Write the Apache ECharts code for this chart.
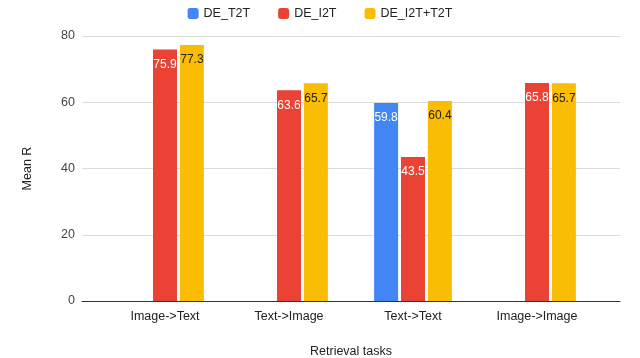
<!DOCTYPE html>
<html>
<head>
<meta charset="utf-8">
<script src="https://cdn.jsdelivr.net/npm/echarts@6/dist/echarts.min.js"></script>
<style>
  html, body { margin: 0; padding: 0; background: #fff; }
  #chart { width: 640px; height: 358px; }
</style>
</head>
<body>
<div id="chart"></div>
<script>
// data
const tasks = ['Image->Text', 'Text->Image', 'Text->Text', 'Image->Image']
const deT2T = [null, null, 59.8, null]
const deI2T = [75.9, 63.6, 43.5, 65.8]
const deI2TT2T = [77.3, 65.7, 60.4, 65.7]
const yTicks = [0, 20, 40, 60, 80]

const font = 'Arial, "Liberation Sans", sans-serif'

let myChart = echarts.init(document.getElementById('chart'))

function barSeries(name, data, color, labelColor) {
  return {
    name: name,
    type: 'bar',
    xAxisIndex: 1,
    yAxisIndex: 1,
    barWidth: 24,
    barGap: '12%',
    data: data,
    itemStyle: { color: color },
    label: {
      show: true,
      position: 'insideTop',
      distance: 9,
      color: labelColor,
      fontSize: 12,
      fontFamily: font,
      formatter: p => (p.value == null ? '' : p.value.toFixed(1))
    }
  }
}

let option = {
  animation: false,
  textStyle: { fontFamily: font },
  legend: {
    top: 2,
    left: 'center',
    itemWidth: 11,
    itemHeight: 11,
    itemGap: 28,
    icon: 'roundRect',
    textStyle: { fontSize: 12.5, color: '#222', fontFamily: font },
    data: ['DE_T2T', 'DE_I2T', 'DE_I2T+T2T']
  },
  grid: [
    // wide grid: gridlines, baseline and y labels
    { left: 82, right: 20, top: 36, bottom: 57, outerBoundsMode: 'none' },
    // inner grid for the bars (padded like the original)
    { left: 103, right: 41, top: 36, bottom: 57, outerBoundsMode: 'none' }
  ],
  xAxis: [
    {
      gridIndex: 0,
      type: 'category',
      data: [''],
      axisLine: { show: true, lineStyle: { color: '#333' } },
      axisTick: { show: false },
      axisLabel: { show: false },
      name: 'Retrieval tasks',
      nameLocation: 'middle',
      nameGap: 44,
      nameTextStyle: { fontSize: 12.5, color: '#222', fontFamily: font }
    },
    {
      gridIndex: 1,
      type: 'category',
      data: tasks,
      axisLine: { show: false },
      axisTick: { show: false },
      axisLabel: { fontSize: 12.5, color: '#222', margin: 9, fontFamily: font }
    }
  ],
  yAxis: [
    {
      gridIndex: 0,
      type: 'value',
      min: 0,
      max: 80,
      interval: 20,
      axisLine: { show: false },
      axisTick: { show: false },
      axisLabel: { fontSize: 12.5, color: '#444', margin: 7, fontFamily: font },
      splitLine: { lineStyle: { color: '#dcdcdc' } },
      name: 'Mean R',
      nameLocation: 'middle',
      nameGap: 48,
      nameTextStyle: { fontSize: 12.5, color: '#222', fontFamily: font }
    },
    {
      gridIndex: 1,
      type: 'value',
      min: 0,
      max: 80,
      interval: 20,
      show: false
    }
  ],
  series: [
    barSeries('DE_T2T', deT2T, '#4285F4', '#fff'),
    barSeries('DE_I2T', deI2T, '#EA4335', '#fff'),
    barSeries('DE_I2T+T2T', deI2TT2T, '#FBBC04', '#222')
  ]
}

option && myChart.setOption(option)
</script>
</body>
</html>
